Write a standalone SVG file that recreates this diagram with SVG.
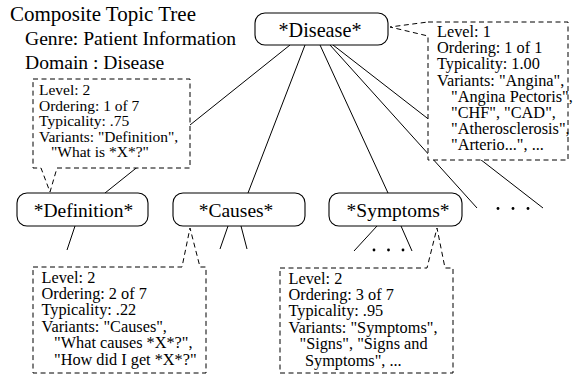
<svg xmlns="http://www.w3.org/2000/svg" width="573" height="376" viewBox="0 0 573 376" font-family="'Liberation Serif','Times New Roman',serif">
<style>
text{font-family:"Liberation Serif","Times New Roman",serif;fill:#000}
.title{font-size:21px}
.sub{font-size:19.6px}
.node rect{fill:#fff;stroke:#000;stroke-width:1.1}
.node text{font-size:19.5px;text-anchor:middle}
#node-disease text{font-size:20.2px}
.call path{fill:#fff;stroke:#000;stroke-width:1;stroke-dasharray:5 3.5}
.call text{font-size:16.3px}
.call.small text{font-size:15.5px}
#connectors line{stroke:#000;stroke-width:1}
#connectors circle{fill:#000}
</style>
<rect width="573" height="376" fill="#fff"/>
<g id="heading">
<text class="title" x="10" y="21">Composite Topic Tree</text>
<text class="sub" x="25" y="45">Genre: Patient Information</text>
<text class="sub" x="25" y="69">Domain : Disease</text>
</g>
<g id="connectors">
<line x1="290" y1="45" x2="105" y2="193"/>
<line x1="305" y1="45" x2="248" y2="193"/>
<line x1="320" y1="45" x2="388" y2="193"/>
<line x1="330" y1="45" x2="477" y2="208"/>
<line x1="333" y1="45" x2="543" y2="208"/>
<line x1="75" y1="226" x2="67" y2="250"/>
<line x1="228" y1="226" x2="220" y2="249"/>
<line x1="241" y1="226" x2="247" y2="249"/>
<line x1="377" y1="226" x2="354" y2="251"/>
<line x1="401" y1="226" x2="412" y2="251"/>
<circle cx="374" cy="250" r="1.4"/>
<circle cx="388.5" cy="250" r="1.4"/>
<circle cx="403" cy="250" r="1.4"/>
<circle cx="498" cy="208.5" r="1.4"/>
<circle cx="513" cy="208.5" r="1.4"/>
<circle cx="528" cy="208.5" r="1.4"/>
</g>
<g id="node-disease" class="node">
<rect x="255" y="13" width="133" height="32" rx="10"/>
<text x="320" y="36.5">*Disease*</text>
</g>
<g id="node-definition" class="node">
<rect x="17" y="193" width="131" height="33" rx="10"/>
<text x="83.5" y="217">*Definition*</text>
</g>
<g id="node-causes" class="node">
<rect x="173" y="193" width="132" height="33" rx="10"/>
<text x="236" y="217">*Causes*</text>
</g>
<g id="node-symptoms" class="node">
<rect x="329" y="193" width="133" height="33" rx="10"/>
<text x="398" y="217">*Symptoms*</text>
</g>
<g id="callout-disease" class="call">
<path d="M428,22 H568 V160 H428 V36 L390,27 Z"/>
<text x="437" y="37">Level: 1</text>
<text x="437" y="53.2">Ordering: 1 of 1</text>
<text x="437" y="69.4">Typicality: 1.00</text>
<text x="437" y="85.6">Variants: "Angina",</text>
<text x="451" y="101.8">"Angina Pectoris",</text>
<text x="451" y="118">"CHF", "CAD",</text>
<text x="451" y="134.2">"Atherosclerosis",</text>
<text x="451" y="150.4">"Arterio...", ...</text>
</g>
<g id="callout-definition" class="call small">
<path d="M33,79 H190 V168 H57 L50,192 L41,168 H33 Z"/>
<text x="39" y="95">Level: 2</text>
<text x="39" y="110.5">Ordering: 1 of 7</text>
<text x="39" y="126">Typicality: .75</text>
<text x="39" y="141.5">Variants: "Definition",</text>
<text x="51" y="157">"What is *X*?"</text>
</g>
<g id="callout-causes" class="call">
<path d="M33,267 H182 L190,228 L200,267 H206 V373 H33 Z"/>
<text x="41.5" y="282.5">Level: 2</text>
<text x="41.5" y="298.9">Ordering: 2 of 7</text>
<text x="41.5" y="315.3">Typicality: .22</text>
<text x="41.5" y="331.7">Variants: "Causes",</text>
<text x="54" y="348.1">"What causes *X*?",</text>
<text x="54" y="364.5">"How did I get *X*?"</text>
</g>
<g id="callout-symptoms" class="call">
<path d="M280,268 H427 L437,228 L445,268 H453 V373 H280 Z"/>
<text x="288.5" y="283.5">Level: 2</text>
<text x="288.5" y="299.9">Ordering: 3 of 7</text>
<text x="288.5" y="316.3">Typicality: .95</text>
<text x="288.5" y="332.7">Variants: "Symptoms",</text>
<text x="299.5" y="349.1">"Signs", "Signs and</text>
<text x="305" y="365.5">Symptoms", ...</text>
</g>
</svg>
